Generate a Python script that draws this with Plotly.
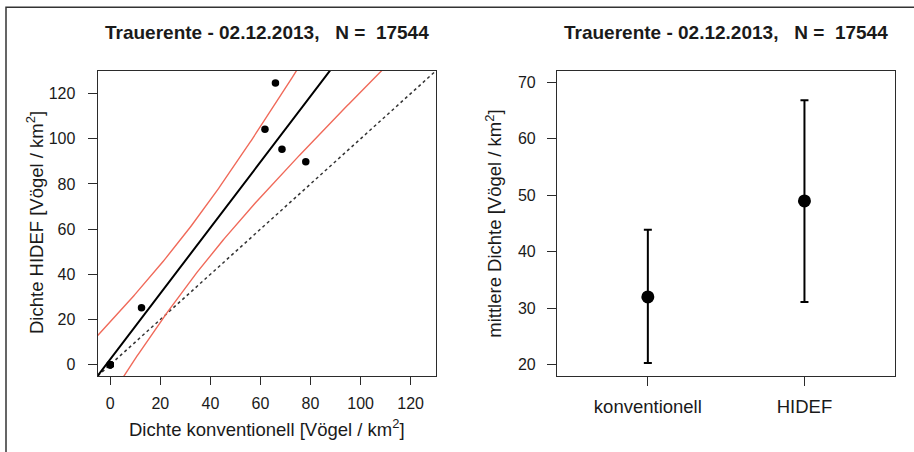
import numpy as np
import plotly.graph_objects as go

# ---- data ----
title_text = "Trauerente - 02.12.2013,   N =  17544"
# left panel: per-transect densities (4 transects at 0/0 overlap)
dens_konv = [0.0, 0.0, 0.0, 0.0, 12.5, 61.8, 66.0, 68.6, 78.1]
dens_hidef = [0.0, 0.0, 0.0, 0.0, 25.2, 104.2, 124.7, 95.4, 89.8]
left_ticks = [0, 20, 40, 60, 80, 100, 120]

# right panel: mean density with interval
categories = ["konventionell", "HIDEF"]
mean_dens = [32.0, 49.0]
upper_dens = [43.9, 66.8]
lower_dens = [20.3, 31.1]
right_ticks = [20, 30, 40, 50, 60, 70]

# ---- linear regression with 95% confidence band (as lm/predict in R) ----
xa = np.array(dens_konv)
ya = np.array(dens_hidef)
n = len(xa)
slope, intercept = np.polyfit(xa, ya, 1)
resid = ya - (intercept + slope * xa)
s = np.sqrt(np.sum(resid ** 2) / (n - 2))
sxx = np.sum((xa - xa.mean()) ** 2)
t975 = 2.364624  # t quantile, df = 7
xg = np.linspace(-5, 130, 300)
fit = intercept + slope * xg
half = t975 * s * np.sqrt(1.0 / n + (xg - xa.mean()) ** 2 / sxx)

W, H = 914, 452
FONT = "Arial, Liberation Sans, Helvetica, sans-serif"
TXT = "#1a1a1a"
LINE = "#2b2b2b"
RED = "#F06A5A"

fig = go.Figure()

# 1:1 line
fig.add_trace(go.Scatter(x=[-5, 130], y=[-5, 130], mode="lines",
                         line=dict(color="#333333", width=1.5, dash="dot"),
                         xaxis="x", yaxis="y", hoverinfo="skip"))
# confidence band
fig.add_trace(go.Scatter(x=xg, y=fit + half, mode="lines",
                         line=dict(color=RED, width=1.4), xaxis="x", yaxis="y"))
fig.add_trace(go.Scatter(x=xg, y=fit - half, mode="lines",
                         line=dict(color=RED, width=1.4), xaxis="x", yaxis="y"))
# regression line
fig.add_trace(go.Scatter(x=xg, y=fit, mode="lines",
                         line=dict(color="black", width=2), xaxis="x", yaxis="y"))
# points
fig.add_trace(go.Scatter(x=dens_konv, y=dens_hidef, mode="markers",
                         marker=dict(color="black", size=7.5),
                         xaxis="x", yaxis="y", cliponaxis=False))

# right panel
xpos = [1, 2]
fig.add_trace(go.Scatter(
    x=xpos, y=mean_dens, mode="markers",
    marker=dict(color="black", size=13),
    error_y=dict(type="data", symmetric=False,
                 array=[u - m for u, m in zip(upper_dens, mean_dens)],
                 arrayminus=[m - l for m, l in zip(mean_dens, lower_dens)],
                 color="black", thickness=2, width=4),
    xaxis="x2", yaxis="y2"))

ax_common = dict(showline=True, mirror=True, linecolor=LINE, linewidth=1.2,
                 ticks="outside", tickcolor=LINE, tickwidth=1.2,
                 showgrid=False, zeroline=False,
                 tickfont=dict(family=FONT, size=16, color=TXT))

ydom = [1 - 376 / H, 1 - 71 / H]
fig.update_layout(
    width=W, height=H, margin=dict(l=0, r=0, t=0, b=0),
    paper_bgcolor="white", plot_bgcolor="white", showlegend=False,
    font=dict(family=FONT, size=16, color=TXT),
    xaxis=dict(domain=[97.7 / W, 435.7 / W], range=[-5, 130], tickvals=left_ticks,
               ticklen=8, ticklabelstandoff=5, anchor="y", **ax_common),
    yaxis=dict(domain=ydom, range=[-5, 130], tickvals=left_ticks,
               ticklen=9, ticklabelstandoff=9, anchor="x", **ax_common),
    xaxis2=dict(domain=[557 / W, 895.3 / W], range=[0.42, 2.58], tickvals=xpos,
                ticktext=categories, ticklen=9, ticklabelstandoff=5, anchor="y2",
                **{k: v for k, v in ax_common.items() if k != "tickfont"},
                tickfont=dict(family=FONT, size=18.5, color=TXT)),
    yaxis2=dict(domain=ydom, range=[18, 72], tickvals=right_ticks,
                ticklen=9, ticklabelstandoff=8, anchor="x2", **ax_common),
)

ann = [
    dict(text="<b>" + title_text + "</b>", x=266.7 / W, y=1 - 33 / H,
         font=dict(size=19)),
    dict(text="<b>" + title_text + "</b>", x=726 / W, y=1 - 33 / H,
         font=dict(size=19)),
    dict(text="Dichte konventionell [Vögel / km<sup>2</sup>]", x=266.7 / W,
         y=1 - 428 / H, font=dict(size=18.5)),
    dict(text="Dichte HIDEF [Vögel / km<sup>2</sup>]", x=35 / W, y=1 - 223 / H,
         textangle=-90, font=dict(size=18.5)),
    dict(text="mittlere Dichte [Vögel / km<sup>2</sup>]", x=493.7 / W, y=1 - 224 / H,
         textangle=-90, font=dict(size=18.5)),
]
for a in ann:
    a.update(xref="paper", yref="paper", showarrow=False,
             xanchor="center", yanchor="middle")
    a["font"].update(family=FONT, color=TXT)
fig.update_layout(annotations=ann)

# outer frame (right/bottom edges run off the picture)
fig.add_shape(type="rect", xref="paper", yref="paper",
              x0=6 / W, x1=1.02, y0=-0.02, y1=1 - 7.3 / H,
              line=dict(color="#333333", width=1.5), layer="below")

fig.write_html("out.html", config={"displayModeBar": False},
               post_script="document.body.style.margin='0';"
                           "document.body.style.overflow='hidden';")
